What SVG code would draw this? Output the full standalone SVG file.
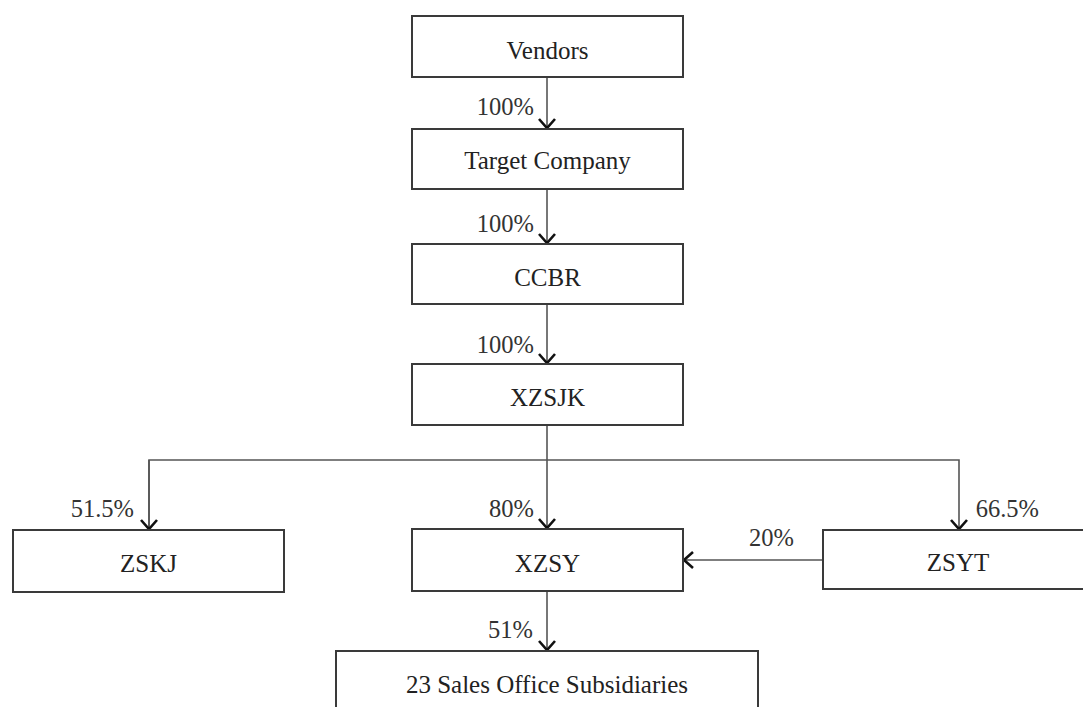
<svg xmlns="http://www.w3.org/2000/svg" width="1083" height="707" viewBox="0 0 1083 707">
<defs>
<style>
.box{fill:#fff;stroke:#3a3a3a;stroke-width:2}
.lbl{font-family:"Liberation Serif","Times New Roman",serif;font-size:25px;fill:#222;text-anchor:middle}
.pct{font-family:"Liberation Serif","Times New Roman",serif;font-size:24.5px;fill:#333;text-anchor:end}
.ln{fill:none;stroke:#555;stroke-width:1.6}
</style>
<marker id="ah" viewBox="-12 -10 14 20" markerWidth="14" markerHeight="20" refX="0" refY="0" orient="auto" markerUnits="userSpaceOnUse">
<path d="M-9,-8 L0,0 L-9,8" fill="none" stroke="#111" stroke-width="2.6"/>
</marker>
</defs>
<rect width="1083" height="707" fill="#fff"/>
<g id="connectors">
<line class="ln" x1="547" y1="77" x2="547" y2="128" marker-end="url(#ah)"/>
<line class="ln" x1="547" y1="189" x2="547" y2="243" marker-end="url(#ah)"/>
<line class="ln" x1="547" y1="304" x2="547" y2="363" marker-end="url(#ah)"/>
<line class="ln" x1="547" y1="425" x2="547" y2="528" marker-end="url(#ah)"/>
<polyline class="ln" points="149,529 149,460 959,460 959,529" marker-end="url(#ah)"/>
<line class="ln" x1="149" y1="460" x2="149" y2="529" marker-end="url(#ah)"/>
<line class="ln" x1="823" y1="560" x2="684" y2="560" marker-end="url(#ah)"/>
<line class="ln" x1="547" y1="591" x2="547" y2="650" marker-end="url(#ah)"/>
<text class="pct" x="534" y="115">100%</text>
<text class="pct" x="534" y="232">100%</text>
<text class="pct" x="534" y="353">100%</text>
<text class="pct" x="534" y="517">80%</text>
<text class="pct" x="134" y="517">51.5%</text>
<text class="pct" x="1039" y="517">66.5%</text>
<text class="pct" x="794" y="546">20%</text>
<text class="pct" x="533" y="638">51%</text>
</g>
<g id="vendors"><rect class="box" x="412" y="16" width="271" height="61"/><text class="lbl" x="547.5" y="59">Vendors</text></g>
<g id="target"><rect class="box" x="412" y="129" width="271" height="60"/><text class="lbl" x="547.5" y="169">Target Company</text></g>
<g id="ccbr"><rect class="box" x="412" y="244" width="271" height="60"/><text class="lbl" x="547.5" y="286">CCBR</text></g>
<g id="xzsjk"><rect class="box" x="412" y="364" width="271" height="61"/><text class="lbl" x="547.5" y="406">XZSJK</text></g>
<g id="zskj"><rect class="box" x="13" y="530" width="271" height="62"/><text class="lbl" x="148.5" y="572">ZSKJ</text></g>
<g id="xzsy"><rect class="box" x="412" y="529" width="271" height="62"/><text class="lbl" x="547.5" y="572">XZSY</text></g>
<g id="zsyt"><rect class="box" x="823" y="530" width="271" height="59"/><text class="lbl" x="958" y="571">ZSYT</text></g>
<g id="sales"><rect class="box" x="336" y="651" width="422" height="80"/><text class="lbl" x="547" y="693">23 Sales Office Subsidiaries</text></g>
</svg>
